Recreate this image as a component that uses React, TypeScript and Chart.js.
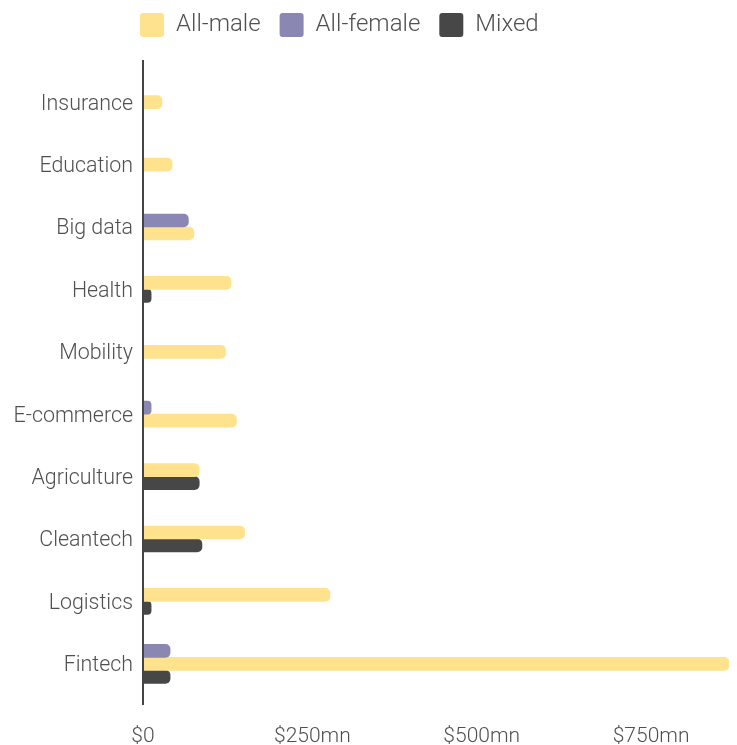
import React, { useEffect, useRef } from 'react';
import { Chart, registerables } from 'chart.js';

Chart.register(...registerables);

const categories = ['Insurance', 'Education', 'Big data', 'Health', 'Mobility', 'E-commerce', 'Agriculture', 'Cleantech', 'Logistics', 'Fintech'];
const allMale = [28, 43, 75, 130, 122, 138, 83, 150, 276, 865];
const allFemale = [null, null, 67, null, null, 12, null, null, null, 40];
const mixed = [null, null, null, 12, null, null, 83, 87, 12, 40];
const xTickValues = [0, 250, 500, 750];
const xMax = 865;
const legendOrder = ['All-male', 'All-female', 'Mixed'];

const COLORS = { male: '#FFE28E', female: '#8A87B3', mixed: '#474747' };
const TEXT = '#505050';
const FONT = 'Roboto';

export default function App() {
  const ref = useRef<HTMLCanvasElement>(null);

  useEffect(() => {
    document.body.style.margin = '0';
    if (!ref.current) return;

    const axisLine = {
      id: 'axisLine',
      afterDatasetsDraw(chart: any) {
        const { ctx, chartArea } = chart;
        ctx.save();
        ctx.strokeStyle = '#444444';
        ctx.lineWidth = 2;
        ctx.beginPath();
        ctx.moveTo(chartArea.left, chartArea.top - 11);
        ctx.lineTo(chartArea.left, chartArea.bottom + 10);
        ctx.stroke();
        ctx.restore();
      },
    };

    const legendShift = {
      id: 'legendShift',
      afterLayout(chart: any) {
        const lg = chart.legend;
        if (lg) {
          lg.top = -6;
          lg.left = 121;
        }
      },
    };

    const radius = { topLeft: 0, bottomLeft: 0, topRight: 5, bottomRight: 5 };

    const chart = new Chart(ref.current, {
      type: 'bar',
      data: {
        labels: categories,
        datasets: [
          { label: 'All-female', data: allFemale, backgroundColor: COLORS.female, borderRadius: radius, borderSkipped: false },
          { label: 'All-male', data: allMale, backgroundColor: COLORS.male, borderRadius: radius, borderSkipped: false },
          { label: 'Mixed', data: mixed, backgroundColor: COLORS.mixed, borderRadius: radius, borderSkipped: false },
        ] as any,
      },
      options: {
        indexAxis: 'y',
        animation: false,
        responsive: true,
        maintainAspectRatio: false,
        layout: { padding: { top: 18, right: 8, left: 0, bottom: 0 } },
        datasets: { bar: { skipNull: true, barThickness: 13 } },
        plugins: {
          tooltip: { enabled: false },
          legend: {
            position: 'top',
            align: 'start',
            labels: {
              boxWidth: 24,
              boxHeight: 24,
              padding: 19,
              useBorderRadius: true,
              borderRadius: 3,
              color: TEXT,
              font: { family: FONT, size: 24, weight: '300' },
              sort: (a: any, b: any) => legendOrder.indexOf(a.text) - legendOrder.indexOf(b.text),
            },
          },
        },
        scales: {
          x: {
            type: 'linear',
            min: 0,
            max: xMax,
            grid: { display: false, drawTicks: false },
            border: { display: false },
            afterFit: (s: any) => { s.height = 50; },
            afterBuildTicks: (s: any) => { s.ticks = xTickValues.map((v) => ({ value: v })); },
            ticks: {
              color: TEXT,
              padding: 29,
              font: { family: FONT, size: 21, weight: '300' },
              callback: (v: any) => (Number(v) === 0 ? '$0' : `$${v}mn`),
            },
          },
          y: {
            grid: { display: false, drawTicks: false },
            border: { display: false },
            afterFit: (s: any) => { s.width = 143; },
            ticks: {
              color: TEXT,
              padding: 10,
              labelOffset: 2,
              font: { family: FONT, size: 21.4, weight: '300' },
            },
          },
        },
      } as any,
      plugins: [axisLine, legendShift],
    });

    return () => chart.destroy();
  }, []);

  return (
    <div style={{ position: 'relative', width: 737, height: 745 }}>
      <canvas ref={ref} />
    </div>
  );
}
